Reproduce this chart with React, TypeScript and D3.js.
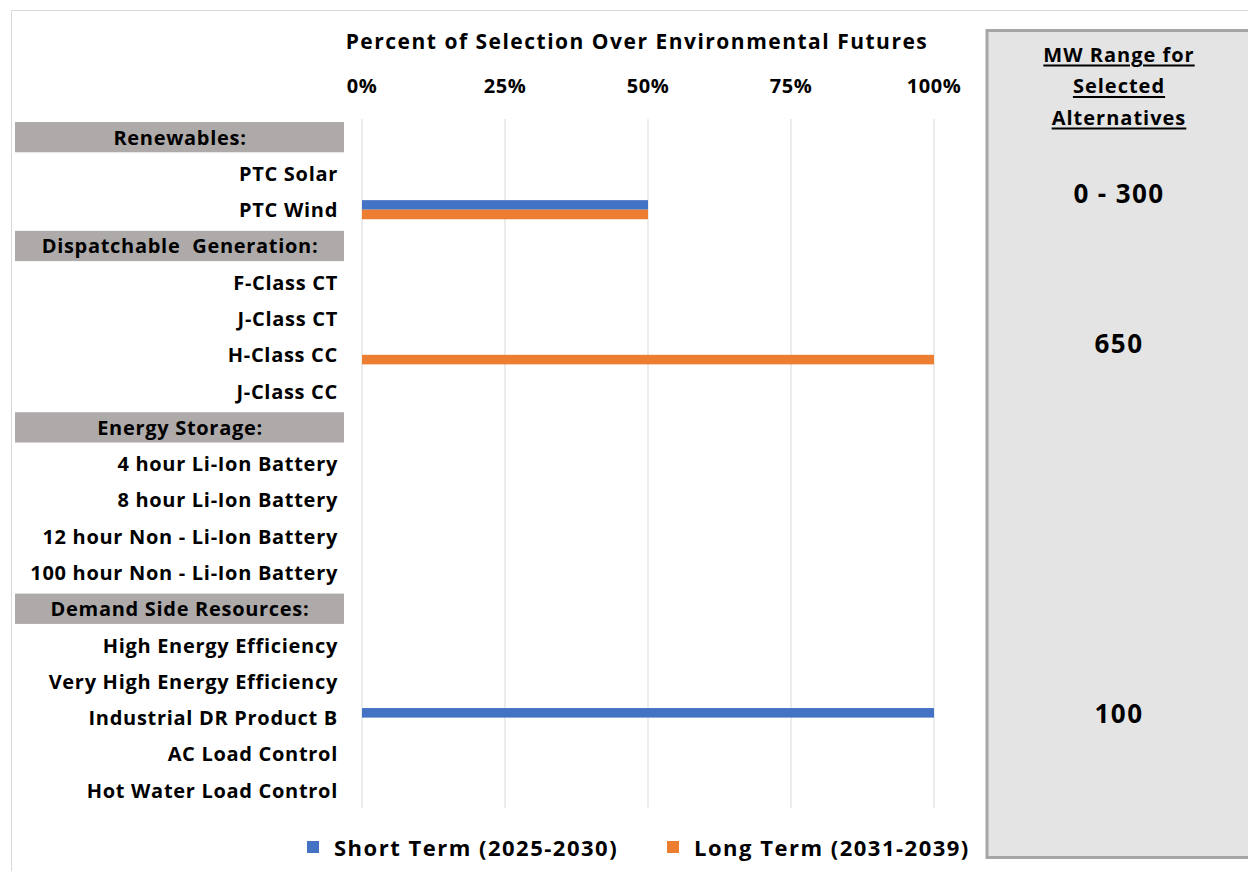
import React from "react";
import * as d3 from "d3";

const categories = [
  "Renewables:",
  "PTC Solar",
  "PTC Wind",
  "Dispatchable  Generation:",
  "F-Class CT",
  "J-Class CT",
  "H-Class CC",
  "J-Class CC",
  "Energy Storage:",
  "4 hour Li-Ion Battery",
  "8 hour Li-Ion Battery",
  "12 hour Non - Li-Ion Battery",
  "100 hour Non - Li-Ion Battery",
  "Demand Side Resources:",
  "High Energy Efficiency",
  "Very High Energy Efficiency",
  "Industrial DR Product B",
  "AC Load Control",
  "Hot Water Load Control",
];
const headers = ["Renewables:", "Dispatchable  Generation:", "Energy Storage:", "Demand Side Resources:"];
const shortTerm = [0, 0, 0.5, 0, 0, 0, 0, 0, 0, 0, 0, 0, 0, 0, 0, 0, 1, 0, 0];
const longTerm = [0, 0, 0.5, 0, 0, 0, 1, 0, 0, 0, 0, 0, 0, 0, 0, 0, 0, 0, 0];
const seriesNames = ["Short Term (2025-2030)", "Long Term (2031-2039)"];
const seriesColors = ["#4472c4", "#ed7d31"];
const xTicks = [0, 0.25, 0.5, 0.75, 1];
const mwTitle = ["MW Range for", "Selected", "Alternatives"];
const mwValues = ["0 - 300", "650", "100"];
const mwRowPos = [1.55, 5.67, 15.87];

const FONT = "'Open Sans', 'Noto Sans', sans-serif";

export default function App() {
  const W = 1248;
  const H = 871;
  const x = d3.scaleLinear().domain([0, 1]).range([362, 934]);
  const y = d3.scaleBand().domain(categories).range([119, 808.3]).paddingInner(0).paddingOuter(0);
  const step = y.step();
  const sub = d3.scaleBand().domain(seriesNames).range([0, step]).paddingInner(0).paddingOuter(0.9);
  const series = [shortTerm, longTerm];
  const yPos = (p: number) => 119 + (p + 0.5) * step;
  const fmt = d3.format(".0%");

  return (
    <svg width={W} height={H} style={{ position: "absolute", left: 0, top: 0, background: "#fff" }}>
      <rect x={0} y={0} width={W} height={H} fill="#fff" />
      {/* outer border */}
      <line x1={11.5} y1={10.5} x2={W} y2={10.5} stroke="#d9d9d9" strokeWidth={1} />
      <line x1={11.5} y1={10.5} x2={11.5} y2={H} stroke="#d9d9d9" strokeWidth={1} />

      {/* title */}
      <text x={637} y={41} textAnchor="middle" dominantBaseline="central" fontFamily={FONT} fontWeight={700} fontSize={21} letterSpacing={1.5} fill="#000">
        Percent of Selection Over Environmental Futures
      </text>

      {/* gridlines */}
      {xTicks.map((t) => (
        <line key={"g" + t} x1={x(t)} x2={x(t)} y1={119} y2={808} stroke="#d9d9d9" strokeWidth={1} />
      ))}
      {xTicks.map((t) => (
        <text key={"t" + t} x={x(t)} y={85} textAnchor="middle" dominantBaseline="central" fontFamily={FONT} fontWeight={700} fontSize={20} letterSpacing={0.5} fill="#000">
          {fmt(t)}
        </text>
      ))}

      {/* header bands */}
      {categories.map((c) =>
        headers.includes(c) ? (
          <rect key={"h" + c} x={15} y={(y(c) as number) + 3} width={329} height={step - 6} fill="#aeaaaa" />
        ) : null
      )}
      {categories.map((c) => {
        const cy = (y(c) as number) + step / 2;
        const isH = headers.includes(c);
        return (
          <text
            key={"l" + c}
            x={isH ? 180 : 338}
            y={cy}
            textAnchor={isH ? "middle" : "end"}
            dominantBaseline="central"
            fontFamily={FONT}
            fontWeight={700}
            fontSize={20}
            letterSpacing={0.7}
            fill="#000"
            style={{ whiteSpace: "pre" }}
          >
            {c}
          </text>
        );
      })}

      {/* bars */}
      {series.map((vals, si) =>
        categories.map((c, i) =>
          vals[i] > 0 ? (
            <rect
              key={"b" + si + c}
              x={x(0)}
              y={(y(c) as number) + (sub(seriesNames[si]) as number)}
              width={x(vals[i]) - x(0)}
              height={sub.bandwidth()}
              fill={seriesColors[si]}
            />
          ) : null
        )
      )}

      {/* legend */}
      {seriesNames.map((s, i) => {
        const lx = [307, 667][i];
        return (
          <g key={"lg" + s}>
            <rect x={lx} y={841} width={12} height={12} fill={seriesColors[i]} />
            <text x={lx + 27} y={847} dominantBaseline="central" fontFamily={FONT} fontWeight={700} fontSize={22} letterSpacing={1.5} fill="#000">
              {s}
            </text>
          </g>
        );
      })}

      {/* right panel */}
      <rect x={987} y={30.5} width={W - 987 + 5} height={827} fill="#e4e4e4" stroke="#a6a6a6" strokeWidth={3} />
      {mwTitle.map((t, i) => (
        <text key={"mt" + i} x={1119} y={54 + i * 31.5} textAnchor="middle" dominantBaseline="central" fontFamily={FONT} fontWeight={700} fontSize={20} letterSpacing={1} fill="#000" textDecoration="underline">
          {t}
        </text>
      ))}
      {mwValues.map((v, i) => (
        <text key={"mv" + i} x={1119} y={yPos(mwRowPos[i])} textAnchor="middle" dominantBaseline="central" fontFamily={FONT} fontWeight={700} fontSize={26} letterSpacing={1.4} fill="#000">
          {v}
        </text>
      ))}
    </svg>
  );
}
